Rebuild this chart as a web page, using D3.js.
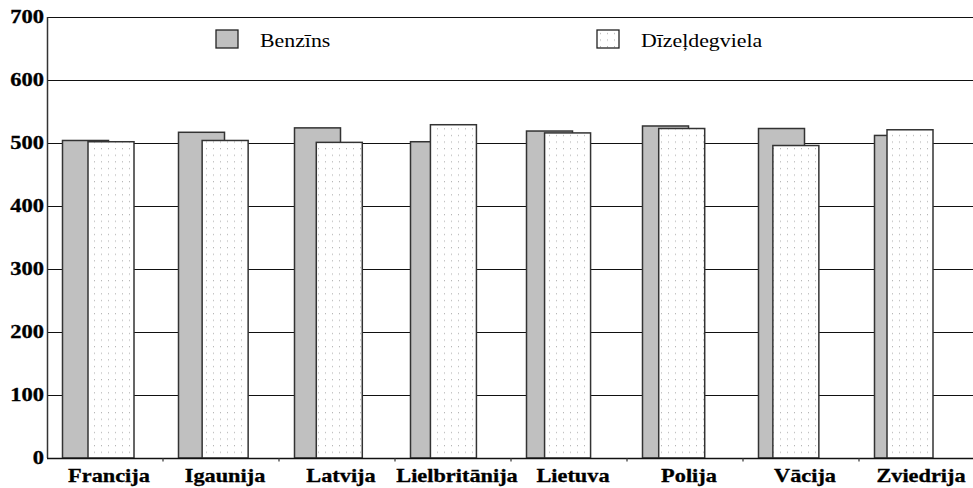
<!DOCTYPE html>
<html>
<head>
<meta charset="utf-8">
<script src="https://cdn.jsdelivr.net/npm/d3@7"></script>
<style>
  body { margin: 0; background: #fff; }
  svg { display: block; }
</style>
</head>
<body>
<svg id="chart" width="973" height="488"></svg>
<script>
// data
const countries = ['Francija', 'Igaunija', 'Latvija', 'Lielbritānija', 'Lietuva', 'Polija', 'Vācija', 'Zviedrija'];
const benzins = [504, 517, 524, 502, 519, 527, 523, 512];
const dizelis = [502, 504, 501, 529, 516, 523, 496, 521];
const seriesNames = ['Benzīns', 'Dīzeļdegviela'];
const yTicks = [0, 100, 200, 300, 400, 500, 600, 700];

const serif = "'Liberation Serif'";

let svg = d3.select('#chart');
let margin = {top: 17, left: 47, bottom: 30};
let height = 488 - margin.bottom;

let y = d3.scaleLinear().domain([0, 700]).range([height, margin.top]);
let x = d3.scaleBand().domain(countries).range([margin.left, 975]);
// second series sits a bit to the right, overlapping the first
let xDot = d3.scalePoint().domain(countries).range([88, 887]);
let barW = 46;

// dotted fill
let pat = svg.append('defs').append('pattern')
    .attr('id', 'dots').attr('patternUnits', 'userSpaceOnUse')
    .attr('width', 7).attr('height', 6.6);
pat.append('rect').attr('width', 7).attr('height', 6.6).attr('fill', '#fff');
pat.append('rect').attr('x', 3).attr('y', 3).attr('width', 1).attr('height', 1).attr('fill', '#a8a8a8');

// grid lines
svg.append('g').selectAll('line')
    .data(yTicks.filter(d => d > 0))
    .enter().append('line')
    .attr('x1', margin.left).attr('x2', 973)
    .attr('y1', d => y(d) + 0.5).attr('y2', d => y(d) + 0.5)
    .attr('stroke', '#111').attr('stroke-width', 1.1);

// bars
let g = svg.append('g');
g.selectAll('.benz')
    .data(countries)
    .enter().append('rect')
    .attr('x', (d) => x(d) + 15.5)
    .attr('y', (d, i) => y(benzins[i]))
    .attr('width', barW)
    .attr('height', (d, i) => y(0) - y(benzins[i]))
    .attr('fill', '#c0c0c0')
    .attr('stroke', '#333').attr('stroke-width', 1.5);

g.selectAll('.diz')
    .data(countries)
    .enter().append('rect')
    .attr('x', d => xDot(d))
    .attr('y', (d, i) => y(dizelis[i]))
    .attr('width', barW)
    .attr('height', (d, i) => y(0) - y(dizelis[i]))
    .attr('fill', 'url(#dots)')
    .attr('stroke', '#333').attr('stroke-width', 1.5);

// axes
svg.append('line')
    .attr('x1', margin.left + 0.5).attr('x2', margin.left + 0.5)
    .attr('y1', y(700)).attr('y2', y(0))
    .attr('stroke', '#333').attr('stroke-width', 1.5);
svg.append('line')
    .attr('x1', margin.left).attr('x2', 973)
    .attr('y1', y(0) + 0.5).attr('y2', y(0) + 0.5)
    .attr('stroke', '#111').attr('stroke-width', 1.5);

svg.append('g').selectAll('line')
    .data(countries.slice(1))
    .enter().append('line')
    .attr('x1', d => x(d)).attr('x2', d => x(d))
    .attr('y1', y(0)).attr('y2', y(0) + 3.5)
    .attr('stroke', '#333').attr('stroke-width', 1.2);

// y tick labels (font is stretched wide in the original)
svg.append('g').selectAll('g')
    .data(yTicks)
    .enter().append('g')
    .attr('transform', d => `translate(44,${y(d) + 6}) scale(1.25,1)`)
    .append('text')
    .attr('text-anchor', 'end')
    .attr('font-family', serif)
    .attr('font-size', 18).attr('font-weight', 'bold')
    .attr('stroke', '#000').attr('stroke-width', 0.3)
    .text(d => d);

// x labels
svg.append('g').selectAll('g')
    .data(countries)
    .enter().append('g')
    .attr('transform', d => `translate(${x(d) + x.bandwidth() / 2 + 4},482) scale(1.24,1)`)
    .append('text')
    .attr('text-anchor', 'middle')
    .attr('font-family', serif)
    .attr('font-size', 18).attr('font-weight', 'bold')
    .attr('stroke', '#000').attr('stroke-width', 0.3)
    .text(d => d);

// legend
let legend = [
    {name: seriesNames[0], fill: '#c0c0c0', x: 216},
    {name: seriesNames[1], fill: 'url(#dots)', x: 597}
];
let lg = svg.append('g').selectAll('g')
    .data(legend).enter().append('g')
    .attr('transform', d => `translate(${d.x},30)`);
lg.append('rect')
    .attr('width', 22).attr('height', 18)
    .attr('fill', d => d.fill)
    .attr('stroke', '#222').attr('stroke-width', 1.3);
lg.append('g')
    .attr('transform', 'translate(44,17) scale(1.18,1)')
    .append('text')
    .attr('font-family', serif)
    .attr('font-size', 18.5)
    .text(d => d.name);
</script>
</body>
</html>
